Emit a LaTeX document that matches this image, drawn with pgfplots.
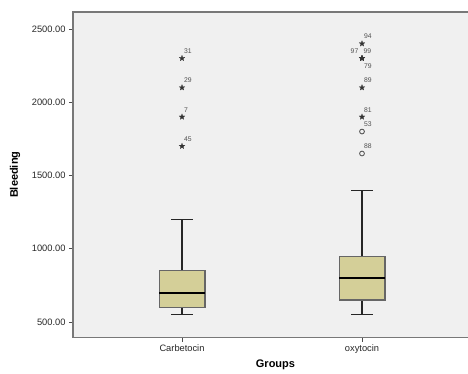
\documentclass[border=0pt]{standalone}
\usepackage{pgfplots}
\pgfplotsset{compat=1.18}
\usepgfplotslibrary{statistics}
\usepackage{fontspec}
\setmainfont{Liberation Sans}
\definecolor{boxfill}{RGB}{212,207,152}
\definecolor{bgc}{RGB}{240,240,240}
\definecolor{framec}{RGB}{120,120,120}
\definecolor{lblc}{RGB}{80,80,80}
\pgfdeclareplotmark{fstar}{%
  \pgfpathmoveto{\pgfpointpolar{90}{\pgfplotmarksize}}%
  \pgfpathlineto{\pgfpointpolar{126}{0.42\pgfplotmarksize}}%
  \pgfpathlineto{\pgfpointpolar{162}{\pgfplotmarksize}}%
  \pgfpathlineto{\pgfpointpolar{198}{0.42\pgfplotmarksize}}%
  \pgfpathlineto{\pgfpointpolar{234}{\pgfplotmarksize}}%
  \pgfpathlineto{\pgfpointpolar{270}{0.42\pgfplotmarksize}}%
  \pgfpathlineto{\pgfpointpolar{306}{\pgfplotmarksize}}%
  \pgfpathlineto{\pgfpointpolar{342}{0.42\pgfplotmarksize}}%
  \pgfpathlineto{\pgfpointpolar{18}{\pgfplotmarksize}}%
  \pgfpathlineto{\pgfpointpolar{54}{0.42\pgfplotmarksize}}%
  \pgfpathclose\pgfusepathqfillstroke}
\begin{document}
\begin{tikzpicture}
\begin{axis}[
  scale only axis, width=397pt, height=325.5pt,
  xmin=0.3944, xmax=2.600, ymin=394, ymax=2616,
  clip=false,
  axis background/.style={fill=bgc},
  axis line style={framec, line width=1.1pt},
  xtick={1,2}, xticklabels={Carbetocin,oxytocin},
  ytick={500,1000,1500,2000,2500},
  yticklabel style={/pgf/number format/.cd, fixed, fixed zerofill, precision=2, 1000 sep={}},
  /pgf/number format/assume math mode=true,
  tick label style={font=\fontsize{9.3}{10}\selectfont, text=black!85},
  tick align=outside, tick pos=left,
  major tick length=4pt,
  tick style={black!70, line width=0.8pt},
  xlabel={Groups}, ylabel={Bleeding},
  xlabel style={font=\bfseries\fontsize{11}{12}\selectfont, at={(axis description cs:0.51,0)}, anchor=center, yshift=-27.5pt},
  ylabel style={font=\bfseries\fontsize{11}{12}\selectfont, at={(axis description cs:0,0.5)}, anchor=center, yshift=58pt},
  boxplot/draw direction=y,
  boxplot/box extend=0.255,
  boxplot/whisker extend=0.122,
  boxplot/every median/.style={black, line width=1.8pt},
  boxplot/every box/.style={draw=black!60, fill=boxfill, line width=1.1pt},
  boxplot/every whisker/.style={black!85, line width=1.2pt},
]
\coordinate (SW) at (rel axis cs:0,0);
\addplot[black!85, line width=1.2pt, boxplot prepared={draw position=1, lower whisker=550, lower quartile=600, median=700, upper quartile=850, upper whisker=1200}] coordinates {};
\addplot[black!85, line width=1.2pt, boxplot prepared={draw position=2, lower whisker=550, lower quartile=650, median=800, upper quartile=950, upper whisker=1400}] coordinates {};
% extreme outliers (stars)
\addplot[only marks, mark=fstar, mark size=3pt, mark options={fill=black!80, draw=black!80, line width=0.2pt}] coordinates {
 (1,2300) (1,2100) (1,1900) (1,1700)
 (2,2400) (2,2300) (2,2300) (2,2300) (2,2100) (2,1900)};
% outliers (circles)
\addplot[only marks, mark=o, mark size=2.4pt, mark options={draw=black!70, line width=0.8pt}] coordinates {(2,1800) (2,1650)};
\tikzset{olab/.style={font=\fontsize{6.8}{7}\selectfont, text=lblc, inner sep=0pt}}
\node[olab, anchor=west] at ([shift={(2pt,7pt)}]axis cs:1,2300) {31};
\node[olab, anchor=west] at ([shift={(2pt,7pt)}]axis cs:1,2100) {29};
\node[olab, anchor=west] at ([shift={(2pt,7pt)}]axis cs:1,1900) {7};
\node[olab, anchor=west] at ([shift={(2pt,7pt)}]axis cs:1,1700) {45};
\node[olab, anchor=west] at ([shift={(2pt,7.5pt)}]axis cs:2,2400) {94};
\node[olab, anchor=east] at ([shift={(-3.5pt,7pt)}]axis cs:2,2300) {97};
\node[olab, anchor=west] at ([shift={(1.5pt,7pt)}]axis cs:2,2300) {99};
\node[olab, anchor=west] at ([shift={(2pt,-7.5pt)}]axis cs:2,2300) {79};
\node[olab, anchor=west] at ([shift={(2pt,7pt)}]axis cs:2,2100) {89};
\node[olab, anchor=west] at ([shift={(2pt,7pt)}]axis cs:2,1900) {81};
\node[olab, anchor=west] at ([shift={(2pt,7.5pt)}]axis cs:2,1800) {53};
\node[olab, anchor=west] at ([shift={(2pt,7pt)}]axis cs:2,1650) {88};
\end{axis}
\pgfresetboundingbox
\path[use as bounding box] (SW) ++(-73pt,-35.5pt) rectangle ++(468pt,373pt);
\end{tikzpicture}
\end{document}
